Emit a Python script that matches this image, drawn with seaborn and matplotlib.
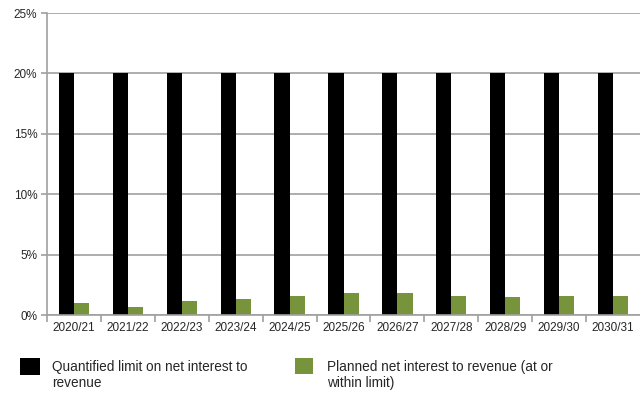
import matplotlib
matplotlib.use("Agg")
import matplotlib.pyplot as plt
import seaborn as sns
import pandas as pd
from matplotlib.ticker import FuncFormatter, FixedLocator
from matplotlib.patches import Patch, Rectangle
from matplotlib.legend_handler import HandlerPatch

years = ["2020/21", "2021/22", "2022/23", "2023/24", "2024/25", "2025/26",
         "2026/27", "2027/28", "2028/29", "2029/30", "2030/31"]
limit = [20, 20, 20, 20, 20, 20, 20, 20, 20, 20, 20]
planned = [1.0, 0.65, 1.2, 1.3, 1.6, 1.8, 1.8, 1.6, 1.5, 1.6, 1.6]
series = ["Quantified limit on net interest to revenue",
          "Planned net interest to revenue (at or within limit)"]
legend_labels = ["Quantified limit on net interest to\nrevenue",
                 "Planned net interest to revenue (at or\nwithin limit)"]
colors = ["#000000", "#77933C"]

df = pd.DataFrame({
    "year": years * 2,
    "value": limit + planned,
    "series": [series[0]] * len(years) + [series[1]] * len(years),
})

sns.set_style("white")
plt.rcParams["font.family"] = ["Liberation Sans", "DejaVu Sans"]

fig = plt.figure(figsize=(6.4, 3.94), dpi=100)
ax = fig.add_axes([47 / 640, 1 - 315 / 394, 1 - 47 / 640, (315 - 13) / 394])

sns.barplot(data=df, x="year", y="value", hue="series", order=years,
            hue_order=series, palette=colors, width=0.56, saturation=1,
            edgecolor="none", ax=ax, legend=False)

ax.set_ylim(0, 25)
ax.set_xlim(-0.5, len(years) - 0.5)
ax.set_yticks([0, 5, 10, 15, 20, 25])
ax.yaxis.set_major_formatter(FuncFormatter(lambda v, p: f"{int(v)}%"))
ax.grid(axis="y", color="#A0A0A0", linewidth=1.2)
ax.set_axisbelow(True)
for s in ["top", "right"]:
    ax.spines[s].set_visible(False)
ax.spines["left"].set_color("#A0A0A0")
ax.spines["bottom"].set_color("#A0A0A0")
ax.spines["left"].set_linewidth(1.2)
ax.spines["bottom"].set_linewidth(1.2)
ax.set_xlabel("")
ax.set_ylabel("")
ax.tick_params(axis="y", which="major", length=4, color="#A0A0A0", width=1.2,
               labelsize=8.5, pad=3, left=True)
ax.tick_params(axis="x", which="major", length=0, labelsize=8.5, pad=5)
ax.xaxis.set_minor_locator(FixedLocator([i + 0.5 for i in range(len(years) - 1)] + [-0.5]))
ax.tick_params(axis="x", which="minor", length=5, color="#A0A0A0", width=1.2, bottom=True)


def top_patch(legend, orig_handle, xdescent, ydescent, width, height, fontsize):
    return Rectangle((-xdescent, -ydescent + 7), width, height)


hm = {Patch: HandlerPatch(patch_func=top_patch)}
fs = 9.8
h1 = Patch(facecolor=colors[0], edgecolor="none")
h2 = Patch(facecolor=colors[1], edgecolor="none")
leg1 = fig.legend([h1], [legend_labels[0]], loc="upper left",
                  bbox_to_anchor=(20 / 640, 1 - 360 / 394), frameon=False,
                  fontsize=fs, handlelength=1.47, handleheight=1.6,
                  handletextpad=0.9, borderpad=0, borderaxespad=0,
                  handler_map=hm)
leg2 = fig.legend([h2], [legend_labels[1]], loc="upper left",
                  bbox_to_anchor=(295 / 640, 1 - 360 / 394), frameon=False,
                  fontsize=fs, handlelength=1.32, handleheight=1.45,
                  handletextpad=1.05, borderpad=0, borderaxespad=0,
                  handler_map=hm)

fig.savefig("out.png", dpi=100)
